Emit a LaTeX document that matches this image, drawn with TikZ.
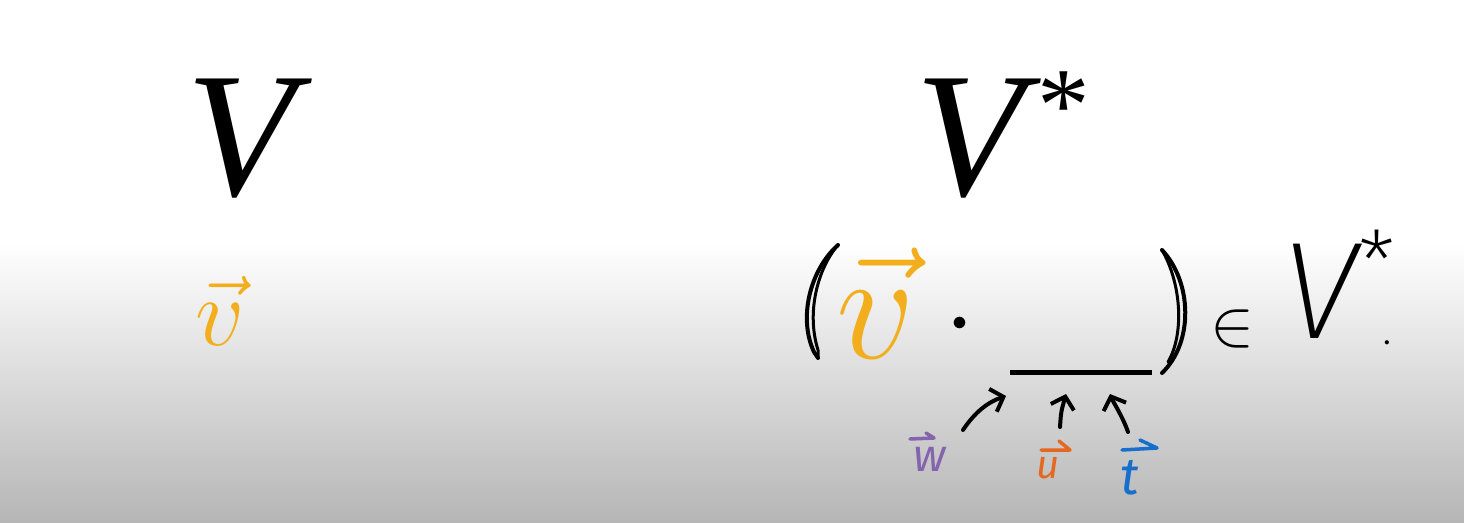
\RequirePackage{fix-cm}
\documentclass[tikz,border=0pt]{standalone}
\usepackage{fontspec}
\usetikzlibrary{arrows.meta}
\newfontfamily\libserif{Liberation Serif}
\newfontfamily\handfont{Fira Sans}
\IfFontExistsTF{Fira Sans ExtraLight}{\newfontfamily\handthin{Fira Sans ExtraLight}}{%
 \IfFontExistsTF{Fira Sans Light}{\newfontfamily\handthin{Fira Sans Light}}{%
  \IfFontExistsTF{DejaVu Sans ExtraLight}{\newfontfamily\handthin{DejaVu Sans ExtraLight}}{%
   \newfontfamily\handthin{Fira Sans}}}}
\definecolor{vorange}{RGB}{242,174,28}
\definecolor{uorange}{RGB}{228,104,32}
\definecolor{wpurple}{RGB}{132,100,172}
\definecolor{tblue}{RGB}{22,110,205}
\definecolor{bggray}{RGB}{182,182,182}
\begin{document}
\begin{tikzpicture}[x=1pt,y=-1pt,
  every node/.style={inner sep=0pt,outer sep=0pt},
  bigV/.style={font=\libserif\itshape\fontsize{178}{178}\selectfont},
  bigstar/.style={font=\libserif\fontsize{105}{105}\selectfont},
  vecsmall/.style={text=vorange,font=\fontsize{97}{97}\selectfont},
  veclarge/.style={text=vorange,font=\fontsize{155}{155}\selectfont},
  hand/.style={line width=4pt,line cap=round,line join=round},
  handtip/.style={-{Straight Barb[length=11pt,width=24pt]}},
  harp/.style={line width=3.5pt,line cap=round,line join=round},
  handV/.style={font=\handthin\itshape\fontsize{138}{138}\selectfont},
  handstar/.style={font=\handthin\fontsize{85}{85}\selectfont},
  lbl/.style={font=\handfont\itshape\fontsize{46}{46}\selectfont}]
\useasboundingbox (0,0) rectangle (1464,522);
\fill[white] (0,0) rectangle (1464,244);
\shade[top color=white,bottom color=bggray] (0,243) rectangle (1464,522);

% typeset spaces
\node[bigV,anchor=base west] (V) at (186,195) {V};
\node[bigV,anchor=base west] (Vd) at (915,195) {V};
\node[bigstar,anchor=north] (ast) at (1064,72) {*};

% vector v
\node[vecsmall,anchor=base] (v1) at (220,345) {$\vec{v}$};

% functional (v . __)
\node[veclarge,anchor=base] (v2) at (876,358) {$\vec{v}$};
\node[font=\fontsize{30}{30}\selectfont,anchor=base] (dot) at (960,330) {$\bullet$};
\coordinate (bl) at (1010,372);
\coordinate (br) at (1152,372);
\draw[line width=5pt] (bl) -- (br);

% hand-drawn parentheses
\coordinate (lpt) at (838,245);
\coordinate (lpb) at (818,358);
\coordinate (rpt) at (1162,250);
\coordinate (rpb) at (1162,373);
\draw[hand] (lpt) .. controls (810,270) and (798,318) .. (814,352) -- (lpb);
\draw[hand,line width=3pt] (lpt) .. controls (818,268) and (806,312) .. (818,350) -- (lpb);
\draw[hand] (rpt) .. controls (1192,282) and (1194,342) .. (rpb);
\draw[hand,line width=3pt] (rpt) .. controls (1182,285) and (1184,335) .. (1168,362);

% in V*
\node[font=\fontsize{66}{66}\selectfont] (in) at (1232,329) {$\in$};
\node[handV,anchor=south] (hv) at (1320,338) {V};
\node[handstar,anchor=north] (hs) at (1377,230) {*};
\node[font=\handfont\fontsize{30}{30}\selectfont,anchor=base] (per) at (1387,344) {.};

% labels
\node[lbl,text=wpurple,anchor=base] (w) at (930,471) {w};
\node[lbl,text=uorange,anchor=base,font=\handfont\itshape\fontsize{40}{40}\selectfont] (u) at (1048,478) {u};
\node[lbl,text=tblue,anchor=base,font=\handfont\itshape\fontsize{52}{52}\selectfont] (t) at (1130,494) {t};

% harpoons over labels
\coordinate (wh1) at (910,439); \coordinate (wh2) at (934,438); \coordinate (wh3) at (926,433);
\draw[harp,wpurple] (wh1) -- (wh2) -- (wh3);
\coordinate (uh1) at (1041,450); \coordinate (uh2) at (1070,450); \coordinate (uh3) at (1059,441);
\draw[harp,uorange] (uh1) -- (uh2) -- (uh3);
\coordinate (th1) at (1122,450); \coordinate (th2) at (1157,448); \coordinate (th3) at (1140,440);
\draw[harp,tblue] (th1) -- (th2) -- (th3);

% arrows into the blank
\coordinate (wa) at (963,430); \coordinate (wb) at (1006,396);
\coordinate (ua) at (1060,427); \coordinate (ub) at (1066,394);
\coordinate (ta) at (1128,432); \coordinate (tb) at (1110,394);
\draw[hand,handtip] (wa) .. controls (975,412) and (988,402) .. (wb);
\draw[hand,handtip] (ua) .. controls (1061,412) .. (ub);
\draw[hand,handtip] (ta) .. controls (1122,415) and (1113,402) .. (tb);
\end{tikzpicture}
\end{document}
